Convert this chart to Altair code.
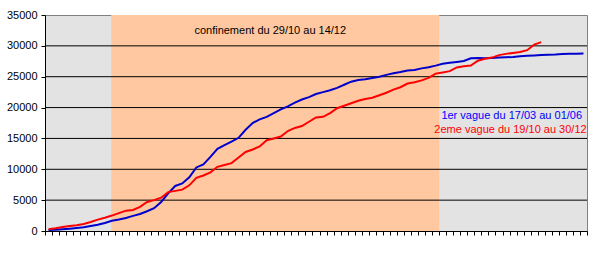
import altair as alt
import pandas as pd

# ---- data ----
wave1 = [150, 200, 280, 380, 500, 600, 800, 1000, 1300, 1650,
         1850, 2100, 2450, 2750, 3200, 3700, 4700, 6100, 7300, 7700,
         8700, 10300, 10800, 12000, 13300, 13900, 14500, 15100, 16400, 17500,
         18100, 18500, 19100, 19700, 20200, 20800, 21300, 21700, 22200, 22500,
         22800, 23200, 23700, 24200, 24450, 24600, 24800, 25000, 25300, 25550,
         25750, 26000, 26100, 26350, 26550, 26800, 27100, 27250, 27400, 27550,
         28000, 28050, 28000, 28050, 28100, 28150, 28200, 28300, 28400, 28450,
         28500, 28550, 28600, 28700, 28720, 28740, 28750]
wave2 = [300, 450, 650, 800, 950, 1150, 1450, 1850, 2150, 2500,
         2900, 3300, 3400, 3900, 4700, 5000, 5400, 6300, 6500, 6700,
         7400, 8600, 9000, 9500, 10400, 10700, 11000, 11900, 12800, 13200,
         13700, 14700, 15000, 15300, 16200, 16700, 17000, 17700, 18400, 18500,
         19100, 19900, 20300, 20700, 21100, 21400, 21600, 22000, 22400, 22900,
         23300, 23900, 24100, 24400, 24800, 25500, 25700, 25900, 26500, 26700,
         26800, 27600, 27900, 28100, 28500, 28700, 28850, 29000, 29300, 30200,
         30600]
wave1_label = "1er vague du 17/03 au 01/06"
wave2_label = "2eme vague du 19/10 au 30/12"
lockdown_label = "confinement du 29/10 au 14/12"
lockdown_start = 9.4
lockdown_end = 56
n_days = 77
y_ticks = [0, 5000, 10000, 15000, 20000, 25000, 30000, 35000]
grid_values = [5000, 10000, 15000, 20000, 25000, 30000]

FONT = "Liberation Sans"
BLUE = "#0000CC"
RED = "#FF0000"

rows = []
for i, v in enumerate(wave1):
    rows.append({"x": i + 0.5, "v": v, "s": wave1_label})
for i, v in enumerate(wave2):
    rows.append({"x": i + 0.5, "v": v, "s": wave2_label})
lines_df = pd.DataFrame(rows)

xscale = alt.Scale(domain=[0, n_days], nice=False, zero=False)
yscale = alt.Scale(domain=[0, 35000], nice=False)

xaxis = alt.Axis(values=list(range(n_days + 1)), labels=False, tickSize=4,
                 tickColor="black", domainColor="black", grid=False, title=None,
                 labelOverlap=False)
yaxis = alt.Axis(values=y_ticks, format="d", labelFont=FONT, labelFontSize=11,
                 labelColor="black", tickSize=4, tickColor="black",
                 domainColor="black", labelPadding=4, grid=False, title=None,
                 labelOverlap=False)


def X(field):
    return alt.X(field, scale=xscale, axis=xaxis, title=None)


def Y(field):
    return alt.Y(field, scale=yscale, axis=yaxis, title=None)


rect = alt.Chart(pd.DataFrame({"a": [lockdown_start], "b": [lockdown_end],
                               "y0": [0], "y1": [35000]})).mark_rect(
    color="#FFC8A0", opacity=1).encode(
    x=X("a:Q"), x2="b:Q", y=Y("y0:Q"), y2="y1:Q",
)

grid = alt.Chart(pd.DataFrame({"g": grid_values})).mark_rule(
    color="black", strokeWidth=1).encode(
    y=Y("g:Q")
)

lines = alt.Chart(lines_df).mark_line(strokeWidth=2).encode(
    x=X("x:Q"),
    y=Y("v:Q"),
    color=alt.Color("s:N", scale=alt.Scale(domain=[wave1_label, wave2_label],
                                           range=[BLUE, RED]), legend=None),
)

conf_text = alt.Chart(pd.DataFrame({"x": [32], "y": [32450], "t": [lockdown_label]})).mark_text(
    font=FONT, fontSize=11, color="black", align="center", baseline="middle").encode(
    x=X("x:Q"), y=Y("y:Q"), text="t:N")

leg_df = pd.DataFrame({"x": [76.3, 76.95], "y": [18600, 16350],
                       "t": [wave1_label, wave2_label]})
leg_text = alt.Chart(leg_df).mark_text(
    font=FONT, fontSize=11, align="right", baseline="middle").encode(
    x=X("x:Q"), y=Y("y:Q"), text="t:N",
    color=alt.Color("t:N", scale=alt.Scale(domain=[wave1_label, wave2_label],
                                           range=["#0000FF", RED]), legend=None))

chart = alt.layer(rect, grid, lines, conf_text, leg_text).resolve_scale(
    color="independent").properties(
    width=542, height=216,
    autosize=alt.AutoSizeParams(type="none"),
    padding={"left": 45, "top": 15, "right": 10, "bottom": 31},
    background="white",
).configure_view(fill="#E3E3E3", stroke="#808080", strokeWidth=1)

chart.save("out.html", embed_options={"renderer": "svg", "actions": False})
